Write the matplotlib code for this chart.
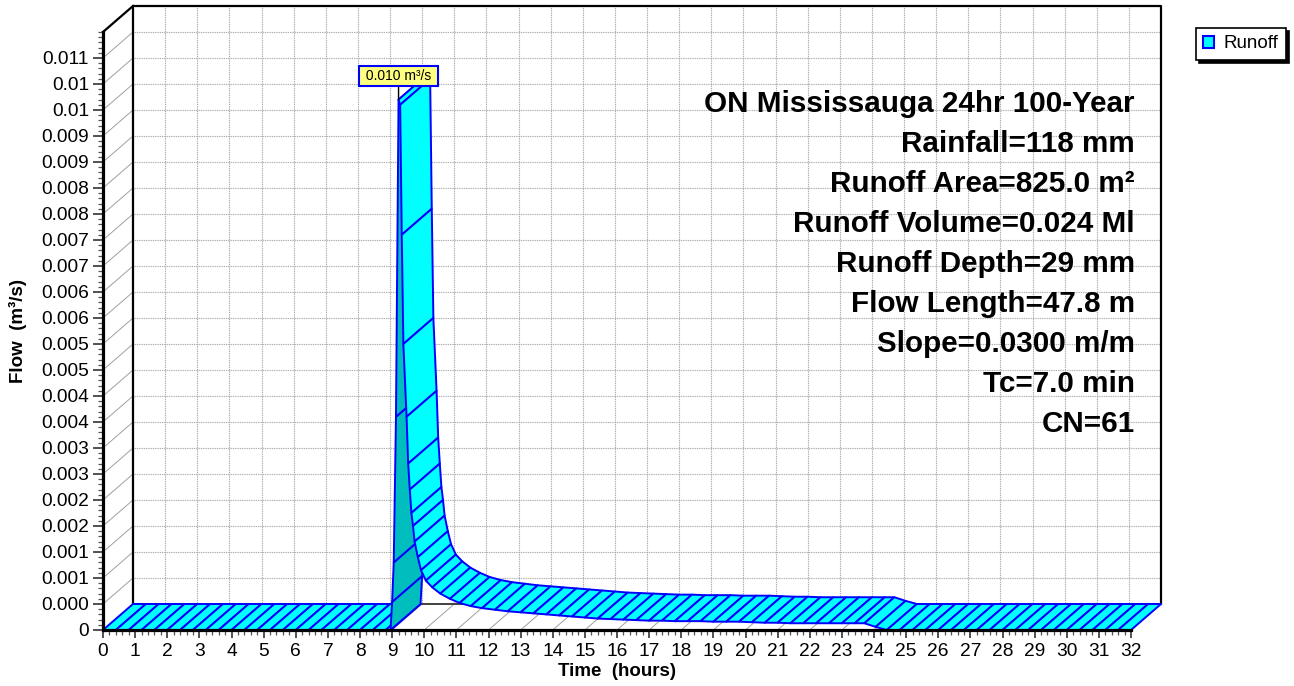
import matplotlib
matplotlib.use("Agg")
import matplotlib.pyplot as plt
from matplotlib.patches import Polygon, Patch
from matplotlib.ticker import MultipleLocator
import numpy as np

plt.rcParams['font.family'] = ['Liberation Sans', 'DejaVu Sans']

# Runoff hydrograph (hours, m³/s)
hours = [0.0, 0.4, 0.8, 1.2, 1.6, 2.0, 2.4, 2.8, 3.2, 3.6, 4.0, 4.4, 4.8, 5.2,
         5.6, 6.0, 6.4, 6.8, 7.2, 7.6, 8.0, 8.4, 8.8, 8.95,
         9.0, 9.05, 9.12, 9.2, 9.25, 9.3, 9.35, 9.45, 9.5, 9.55, 9.6, 9.65,
         9.7, 9.8, 9.9, 10.05, 10.25, 10.5, 10.8, 11.1, 11.45, 11.8, 12.2,
         12.6, 13.0, 13.4, 13.8, 14.2, 14.6, 15.0, 15.4, 15.8, 16.2, 16.6,
         17.0, 17.4, 17.8, 18.2, 18.6, 19.0, 19.4, 19.8, 20.2, 20.6, 21.0,
         21.4, 21.8, 22.2, 22.6, 23.0, 23.4, 23.7, 24.05, 24.4,
         24.8, 25.2, 25.6, 26.0, 26.4, 26.8, 27.2, 27.6, 28.0, 28.4, 28.8,
         29.2, 29.6, 30.0, 30.4, 30.8, 31.2, 31.6, 32.0]
flow = [0, 0, 0, 0, 0, 0, 0, 0, 0, 0, 0, 0, 0, 0,
        0, 0, 0, 0, 0, 0, 0, 0, 0, 0,
        0.00054, 0.0013, 0.0041, 0.0102, 0.0101, 0.0076, 0.0055, 0.0041,
        0.0032, 0.0027, 0.00225, 0.0020,
        0.0017, 0.0014, 0.00115, 0.00095, 0.00082, 0.0007, 0.0006, 0.00052,
        0.00046, 0.00042, 0.00039,
        0.00036, 0.00034, 0.00032, 0.0003, 0.00028, 0.00026, 0.00024,
        0.00022, 0.00021, 0.0002, 0.00019,
        0.00018, 0.00018, 0.00017, 0.00017, 0.00017, 0.00016, 0.00016,
        0.00016, 0.00015, 0.00014, 0.00014,
        0.00013, 0.00013, 0.00013, 0.00013, 0.00013, 0.00013, 0.00013,
        0.00006, 0.0,
        0, 0, 0, 0, 0, 0, 0, 0, 0, 0, 0,
        0, 0, 0, 0, 0, 0, 0, 0]

y_tick_labels = ["0", "0.000", "0.001", "0.001", "0.002", "0.002", "0.003",
                 "0.003", "0.004", "0.004", "0.005", "0.005", "0.006", "0.006",
                 "0.007", "0.007", "0.008", "0.008", "0.009", "0.009", "0.01",
                 "0.01", "0.011"]

info_lines = ["ON Mississauga 24hr 100-Year", "Rainfall=118 mm",
              "Runoff Area=825.0 m²", "Runoff Volume=0.024 Ml",
              "Runoff Depth=29 mm", "Flow Length=47.8 m", "Slope=0.0300 m/m",
              "Tc=7.0 min", "CN=61"]

CYAN = '#00FFFF'
TEAL = '#00BEBE'
BLUE = '#0000FF'
GRID = '#a0a0a0'
W, H = 1294, 686
XMAX, YMAX = 32, 0.0115

fig = plt.figure(figsize=(W / 100, H / 100), dpi=100)
ax = fig.add_axes([103 / W, 56 / H, 1028 / W, 598 / H])
ax.set_xlim(0, XMAX)
ax.set_ylim(0, YMAX)
ax.patch.set_visible(False)
for s in ('top', 'right'):
    ax.spines[s].set_visible(False)
for s in ('left', 'bottom'):
    ax.spines[s].set_linewidth(2.3)
    ax.spines[s].set_color('black')
    ax.spines[s].set_zorder(10)

# depth of the pseudo 3d box, 30 px right and 26 px up
p0 = ax.transData.transform((0, 0))
ddx, ddy = ax.transData.inverted().transform(p0 + np.array([30, 26]))

ticks_y = np.arange(len(y_tick_labels)) * 0.0005

# back wall grid
ax.vlines([h + ddx for h in range(1, XMAX)], ddy, YMAX + ddy, colors=GRID,
          linestyles=(0, (0.8, 0.8)), lw=0.8, clip_on=False, zorder=1)
ax.hlines([t + ddy for t in ticks_y[1:]], ddx, XMAX + ddx, colors=GRID,
          linestyles=(0, (0.8, 0.8)), lw=0.8, clip_on=False, zorder=1)
# side wall and floor diagonals
for t in ticks_y[1:]:
    ax.plot([0, ddx], [t, t + ddy], color=GRID, lw=0.7, clip_on=False, zorder=1)
for h in range(1, XMAX):
    ax.plot([h, h + ddx], [0, ddy], color=GRID, lw=0.7, clip_on=False, zorder=1)
# back wall border
ax.plot([ddx, ddx, XMAX + ddx, XMAX + ddx], [ddy, YMAX + ddy, YMAX + ddy, ddy],
        color='black', lw=1.6, clip_on=False, zorder=1.5)
ax.plot([ddx, XMAX + ddx], [ddy, ddy], color='#404040', lw=1.4,
        clip_on=False, zorder=1.5)
ax.plot([0, ddx], [YMAX, YMAX + ddy], color='black', lw=1.6, clip_on=False,
        zorder=1.5)

# ribbon, one quad per time step, painted front to back in time order
T = np.array(hours)
Q = np.array(flow)
for i in range(len(T) - 1):
    quad = np.array([(T[i], Q[i]), (T[i + 1], Q[i + 1]),
                     (T[i + 1] + ddx, Q[i + 1] + ddy), (T[i] + ddx, Q[i] + ddy)])
    scr = ax.transData.transform(quad)
    x, y = scr[:, 0], scr[:, 1]
    area = np.sum(x * np.roll(y, -1) - np.roll(x, -1) * y)
    fc = CYAN if area >= 0 else TEAL
    ax.add_patch(Polygon(quad, closed=True, facecolor=fc, edgecolor=BLUE,
                         lw=1.4, joinstyle='round', clip_on=False,
                         zorder=3 + i * 0.001))

# peak label
ip = int(np.argmax(Q))
ax.annotate(f" {Q[ip]:.3f} m³/s ", xy=(T[ip], Q[ip]), xytext=(0, 17),
            textcoords='offset points', ha='center', va='center', fontsize=10,
            bbox=dict(boxstyle='square,pad=0.2', fc='#FFFF80', ec=BLUE, lw=1.5),
            arrowprops=dict(arrowstyle='-', color='black', lw=1, shrinkA=0,
                            shrinkB=0),
            annotation_clip=False, zorder=20)

# axes ticks
ax.set_xticks(range(XMAX + 1))
ax.xaxis.set_minor_locator(MultipleLocator(0.2))
ax.set_yticks(ticks_y, labels=y_tick_labels)
ax.yaxis.set_minor_locator(MultipleLocator(0.0001))
ax.tick_params(which='major', direction='out', color='#333333', width=1.2,
               labelsize=13.8)
ax.tick_params(axis='y', which='major', length=7, pad=3)
ax.tick_params(axis='x', which='major', length=6, pad=3)
ax.tick_params(which='minor', direction='out', color='#555555', width=0.9,
               length=3.5)

ax.set_xlabel("Time  (hours)", fontsize=13.5, fontweight='bold')
ax.xaxis.set_label_coords(0.5, (630 - 672) / 598)
ax.xaxis.label.set_va('center')
ax.set_ylabel("Flow  (m³/s)", fontsize=13.5, fontweight='bold')
ax.yaxis.set_label_coords((18 - 103) / 1028, 0.5)
ax.yaxis.label.set_va('center')

# info block
for k, line in enumerate(info_lines):
    fig.text(1135 / W, 1 - (111.5 + 40 * k) / H, line, ha='right',
             va='baseline', fontsize=21.3, fontweight='bold')

leg = ax.legend(handles=[Patch(facecolor=CYAN, edgecolor=BLUE, lw=1.5,
                               label='Runoff')],
                loc='center', bbox_to_anchor=(1241 / W, 1 - 44 / H),
                bbox_transform=fig.transFigure, fontsize=13.5, frameon=True,
                fancybox=False, edgecolor='black', framealpha=1,
                shadow={'color': 'black', 'alpha': 1},
                handlelength=0.55, handleheight=0.55, handletextpad=0.55,
                borderpad=0.4, borderaxespad=0)
leg.get_frame().set_linewidth(1.2)

fig.savefig("out.png", dpi=100)
